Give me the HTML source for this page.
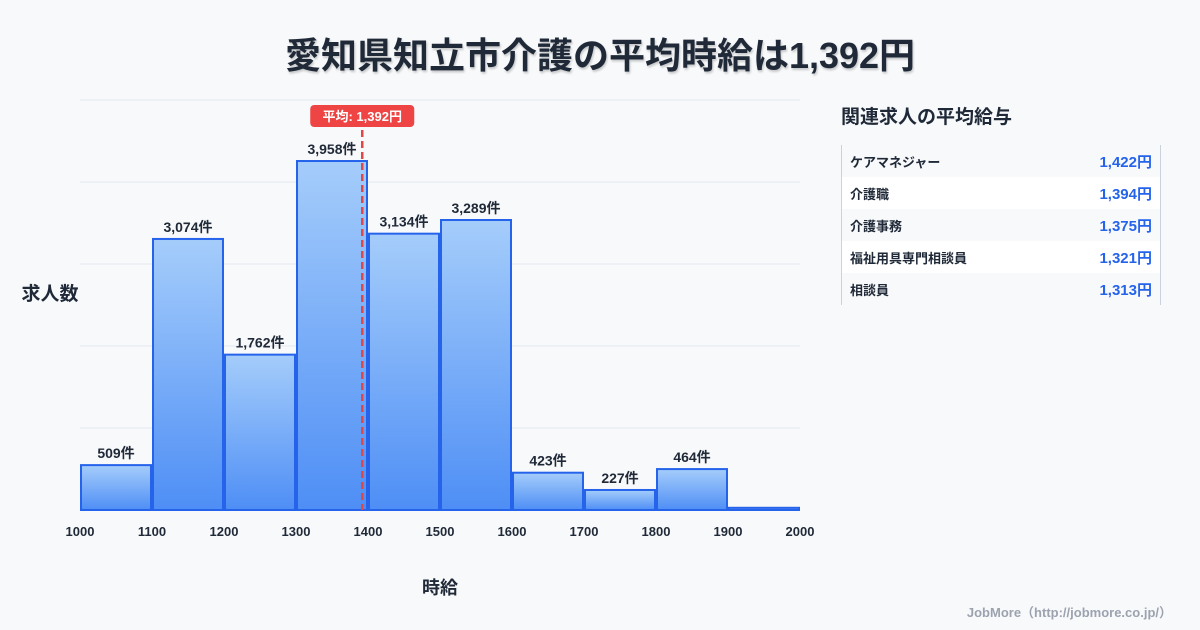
<!DOCTYPE html>
<html><head><meta charset="utf-8"><style>
body{margin:0;width:1200px;height:630px;background:#f8f9fb;font-family:"Liberation Sans","Noto Sans CJK JP",sans-serif;overflow:hidden;position:relative;color:#1f2937}
.t{position:absolute}
</style></head><body>
<div class="t" style="left:0;width:1200px;top:27px;text-align:center;font-size:36px;font-weight:bold;color:#1f2937;text-shadow:1px 2px 2px rgba(0,0,0,0.2)">愛知県知立市介護の平均時給は1,392円</div>
<svg id="chart" width="1200" height="630" style="position:absolute;left:0;top:0"></svg>
<div class="t" style="left:841px;top:102px;font-size:19px;font-weight:bold">関連求人の平均給与</div>
<div class="t" style="left:841px;top:145px;width:318px;border-left:1px solid #cbd2dc;border-right:1px solid #cbd2dc;font-size:13px;font-weight:bold">
<div style="height:32px;display:flex;justify-content:space-between;align-items:center;padding:0 8px">ケアマネジャー<span style="color:#2563eb;font-size:15px">1,422円</span></div>
<div style="height:32px;display:flex;justify-content:space-between;align-items:center;padding:0 8px;background:#fff">介護職<span style="color:#2563eb;font-size:15px">1,394円</span></div>
<div style="height:32px;display:flex;justify-content:space-between;align-items:center;padding:0 8px">介護事務<span style="color:#2563eb;font-size:15px">1,375円</span></div>
<div style="height:32px;display:flex;justify-content:space-between;align-items:center;padding:0 8px;background:#fff">福祉用具専門相談員<span style="color:#2563eb;font-size:15px">1,321円</span></div>
<div style="height:32px;display:flex;justify-content:space-between;align-items:center;padding:0 8px">相談員<span style="color:#2563eb;font-size:15px">1,313円</span></div>
</div>
<div class="t" style="right:28px;top:602px;font-size:13px;font-weight:bold;color:#9ca3af">JobMore（http://jobmore.co.jp/）</div>
<script>
const binStarts=[1000,1100,1200,1300,1400,1500,1600,1700,1800,1900];
const counts=[509,3074,1762,3958,3134,3289,423,227,464,25];
const xTicks=[1000,1100,1200,1300,1400,1500,1600,1700,1800,1900,2000];
const meanValue=1392;
const NS="http://www.w3.org/2000/svg";
const svg=document.getElementById('chart');
const X=v=>80+(v-1000)*0.72;
const Y=v=>510-v*(410/4650);
function mk(t,a,p){const e=document.createElementNS(NS,t);for(const k in a)e.setAttribute(k,a[k]);(p||svg).appendChild(e);return e;}
const defs=mk('defs',{});
const g=mk('linearGradient',{id:'bg',x1:0,y1:0,x2:0,y2:1},defs);
mk('stop',{offset:0,'stop-color':'#a5cdfb'},g);mk('stop',{offset:1,'stop-color':'#4e8ef5'},g);
for(let i=0;i<=5;i++){const y=100+i*82;const l=mk('line',{x1:80,x2:800,y1:y,y2:y,stroke:'#e2e6ec','stroke-width':1});

}
binStarts.forEach((b,i)=>{
const x0=X(b)+1,x1=X(b+100)-1,y=Y(counts[i]);
const r=mk('rect',{x:x0,y:y,width:x1-x0,height:510-y,fill:'url(#bg)',stroke:'#2563eb','stroke-width':2});


if(counts[i]>100){const t=mk('text',{x:(x0+x1)/2,y:y-7,'text-anchor':'middle','font-size':14,'font-weight':'bold',fill:'#1f2937'});t.textContent=counts[i].toLocaleString('en-US')+'件';

}
});
xTicks.forEach(v=>{const t=mk('text',{x:X(v),y:536,'text-anchor':'middle','font-size':13,'font-weight':'bold',fill:'#1f2937'});t.textContent=v;

});
const mx=X(meanValue);
const ml=mk('line',{x1:mx,x2:mx,y1:130,y2:510,stroke:'#e04848','stroke-width':2.5,'stroke-dasharray':'7,4'});


const mb=mk('rect',{x:mx-52,y:105,width:104,height:22,rx:4,fill:'#ef4444'});


const mt=mk('text',{x:mx,y:121,'text-anchor':'middle','font-size':13,'font-weight':'bold',fill:'#fff'});mt.textContent='平均: '+meanValue.toLocaleString('en-US')+'円';


const xt=mk('text',{x:440,y:594,'text-anchor':'middle','font-size':18,'font-weight':'bold',fill:'#1f2937'});xt.textContent='時給';


const yt=mk('text',{x:50,y:300,'text-anchor':'middle','font-size':19,'font-weight':'bold',fill:'#1f2937'});yt.textContent='求人数';


</script>
</body></html>
